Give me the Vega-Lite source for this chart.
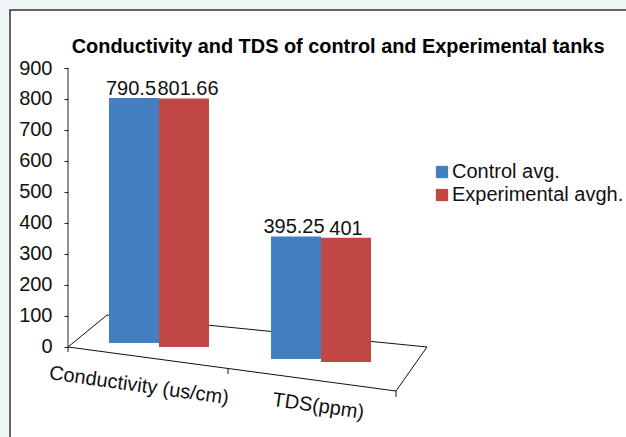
{
"$schema":"https://vega.github.io/schema/vega-lite/v6.json",
"width":344,"height":329,
"autosize":{"type":"none"},
"padding":{"left":68,"top":68,"right":214,"bottom":40},
"background":"#EEF7F8",
"title":{"text":"Conductivity and TDS of control and Experimental tanks","font":"Liberation Sans","fontSize":19.9,"fontWeight":"bold","color":"#000000","anchor":"start","dx":62.5,"offset":-48},
"config":{"view":{"stroke":null},"font":"Liberation Sans"},
"datasets":{"tanks":[
{"category":"Conductivity (us/cm)","series":"Control avg.","value":790.5},
{"category":"Conductivity (us/cm)","series":"Experimental avgh.","value":801.66},
{"category":"TDS(ppm)","series":"Control avg.","value":395.25},
{"category":"TDS(ppm)","series":"Experimental avgh.","value":401}
]},
"resolve":{"scale":{"x":"independent"},"axis":{"x":"independent"}},
"layer":[
{"data":{"values":[{}]},
 "layer":[
 {"mark":{"type":"rect","fill":"#FFFFFF","stroke":"#333333","strokeWidth":1.5},
  "encoding":{"x":{"datum":-58,"type":"quantitative","scale":{"domain":[0,344],"nice":false,"zero":false},"axis":null},"x2":{"datum":800},
  "y":{"datum":1087,"type":"quantitative","scale":{"domain":[-161.3,900],"nice":false,"zero":false},"axis":{"title":null,"values":[0,100,200,300,400,500,600,700,800,900],"labelOverlap":false,"domain":false,"grid":false,"tickSize":4,"tickColor":"#222222","labelFontSize":20,"labelColor":"#111111","labelPadding":12,"zindex":1}},"y2":{"datum":-500}}},
 {"mark":{"type":"rule","stroke":"#222222","strokeWidth":1},"encoding":{"x":{"datum":0,"type":"quantitative"},"y":{"datum":0,"type":"quantitative","axis":{"title":null,"values":[0,100,200,300,400,500,600,700,800,900],"labelOverlap":false,"domain":false,"grid":false,"tickSize":4,"tickColor":"#222222","labelFontSize":20,"labelColor":"#111111","labelPadding":12,"zindex":1}},"y2":{"datum":900}}},
 {"mark":{"type":"rule","stroke":"#111111","strokeWidth":1},"encoding":{"x":{"datum":0,"type":"quantitative"},"x2":{"datum":328},"y":{"datum":0,"type":"quantitative","axis":{"title":null,"values":[0,100,200,300,400,500,600,700,800,900],"labelOverlap":false,"domain":false,"grid":false,"tickSize":4,"tickColor":"#222222","labelFontSize":20,"labelColor":"#111111","labelPadding":12,"zindex":1}},"y2":{"datum":-142}}},
 {"mark":{"type":"rule","stroke":"#111111","strokeWidth":1},"encoding":{"x":{"datum":328,"type":"quantitative"},"x2":{"datum":359},"y":{"datum":-142,"type":"quantitative","axis":{"title":null,"values":[0,100,200,300,400,500,600,700,800,900],"labelOverlap":false,"domain":false,"grid":false,"tickSize":4,"tickColor":"#222222","labelFontSize":20,"labelColor":"#111111","labelPadding":12,"zindex":1}},"y2":{"datum":0}}},
 {"mark":{"type":"rule","stroke":"#111111","strokeWidth":1},"encoding":{"x":{"datum":39,"type":"quantitative"},"x2":{"datum":359},"y":{"datum":103,"type":"quantitative","axis":{"title":null,"values":[0,100,200,300,400,500,600,700,800,900],"labelOverlap":false,"domain":false,"grid":false,"tickSize":4,"tickColor":"#222222","labelFontSize":20,"labelColor":"#111111","labelPadding":12,"zindex":1}},"y2":{"datum":0}}},
 {"mark":{"type":"rule","stroke":"#111111","strokeWidth":1},"encoding":{"x":{"datum":0,"type":"quantitative"},"x2":{"datum":39},"y":{"datum":0,"type":"quantitative","axis":{"title":null,"values":[0,100,200,300,400,500,600,700,800,900],"labelOverlap":false,"domain":false,"grid":false,"tickSize":4,"tickColor":"#222222","labelFontSize":20,"labelColor":"#111111","labelPadding":12,"zindex":1}},"y2":{"datum":103}}},
 {"mark":{"type":"rule","stroke":"#111111","strokeWidth":1},"encoding":{"x":{"datum":0,"type":"quantitative"},"y":{"datum":0,"type":"quantitative","axis":{"title":null,"values":[0,100,200,300,400,500,600,700,800,900],"labelOverlap":false,"domain":false,"grid":false,"tickSize":4,"tickColor":"#222222","labelFontSize":20,"labelColor":"#111111","labelPadding":12,"zindex":1}},"y2":{"datum":-16}}},
 {"mark":{"type":"rule","stroke":"#111111","strokeWidth":1},"encoding":{"x":{"datum":160,"type":"quantitative"},"y":{"datum":-71,"type":"quantitative","axis":{"title":null,"values":[0,100,200,300,400,500,600,700,800,900],"labelOverlap":false,"domain":false,"grid":false,"tickSize":4,"tickColor":"#222222","labelFontSize":20,"labelColor":"#111111","labelPadding":12,"zindex":1}},"y2":{"datum":-87}}},
 {"mark":{"type":"rule","stroke":"#111111","strokeWidth":1},"encoding":{"x":{"datum":328,"type":"quantitative"},"y":{"datum":-142,"type":"quantitative","axis":{"title":null,"values":[0,100,200,300,400,500,600,700,800,900],"labelOverlap":false,"domain":false,"grid":false,"tickSize":4,"tickColor":"#222222","labelFontSize":20,"labelColor":"#111111","labelPadding":12,"zindex":1}},"y2":{"datum":-161}}}
 ]},
{"data":{"name":"tanks"},
 "encoding":{
  "x":{"field":"category","type":"nominal","sort":null,
   "scale":{"domain":["Conductivity (us/cm)","TDS(ppm)"],"paddingInner":0.383,"paddingOuter":0.253},
   "axis":null},
  "xOffset":{"field":"series","type":"nominal","sort":null,"scale":{"domain":["Control avg.","Experimental avgh."],"paddingInner":0,"paddingOuter":0}},
  "y":{"field":"value","type":"quantitative",
   "axis":{"title":null,"values":[0,100,200,300,400,500,600,700,800,900],"labelOverlap":false,"domain":false,"grid":false,"tickSize":4,"tickColor":"#222222","labelFontSize":20,"labelColor":"#111111","labelPadding":12,"zindex":1}}
 },
 "layer":[
  {"mark":{"type":"bar","yOffset":{"expr":"datum.category==='TDS(ppm)'?(datum.series==='Control avg.'?12:15):(datum.series==='Control avg.'?-4:0)"}},
   "encoding":{"color":{"field":"series","type":"nominal","sort":null,
    "scale":{"domain":["Control avg.","Experimental avgh."],"range":["#427EC0","#C04744"]},
    "legend":{"title":null,"orient":"none","legendX":364,"legendY":94,"symbolType":"square","symbolSize":150,"symbolStrokeWidth":0,"labelFontSize":20,"labelColor":"#111111","labelLimit":200,"labelOffset":0,"rowPadding":3,"symbolOpacity":1}}}},
  {"mark":{"type":"text","fontSize":20,"color":"#111111","baseline":"middle",
    "dx":{"expr":"datum.category==='TDS(ppm)'?(datum.series==='Control avg.'?-2:0):(datum.series==='Control avg.'?-3:4)"},
    "dy":{"expr":"-9+(datum.category==='TDS(ppm)'?(datum.series==='Control avg.'?12:15):(datum.series==='Control avg.'?-4:0))"}},
   "encoding":{"text":{"field":"value","type":"quantitative","format":".10~f"}}},
  {"transform":[{"filter":"datum.series==='Control avg.'"}],
   "mark":{"type":"text","fontSize":20,"color":"#111111","baseline":"middle","align":"center","angle":8,
    "dx":{"expr":"datum.category==='TDS(ppm)'?25:5"},
    "dy":{"expr":"datum.category==='TDS(ppm)'?18:0"}},
   "encoding":{"text":{"field":"category","type":"nominal"},"y":{"datum":-122.6,"type":"quantitative"}}}
 ]}
]
}
